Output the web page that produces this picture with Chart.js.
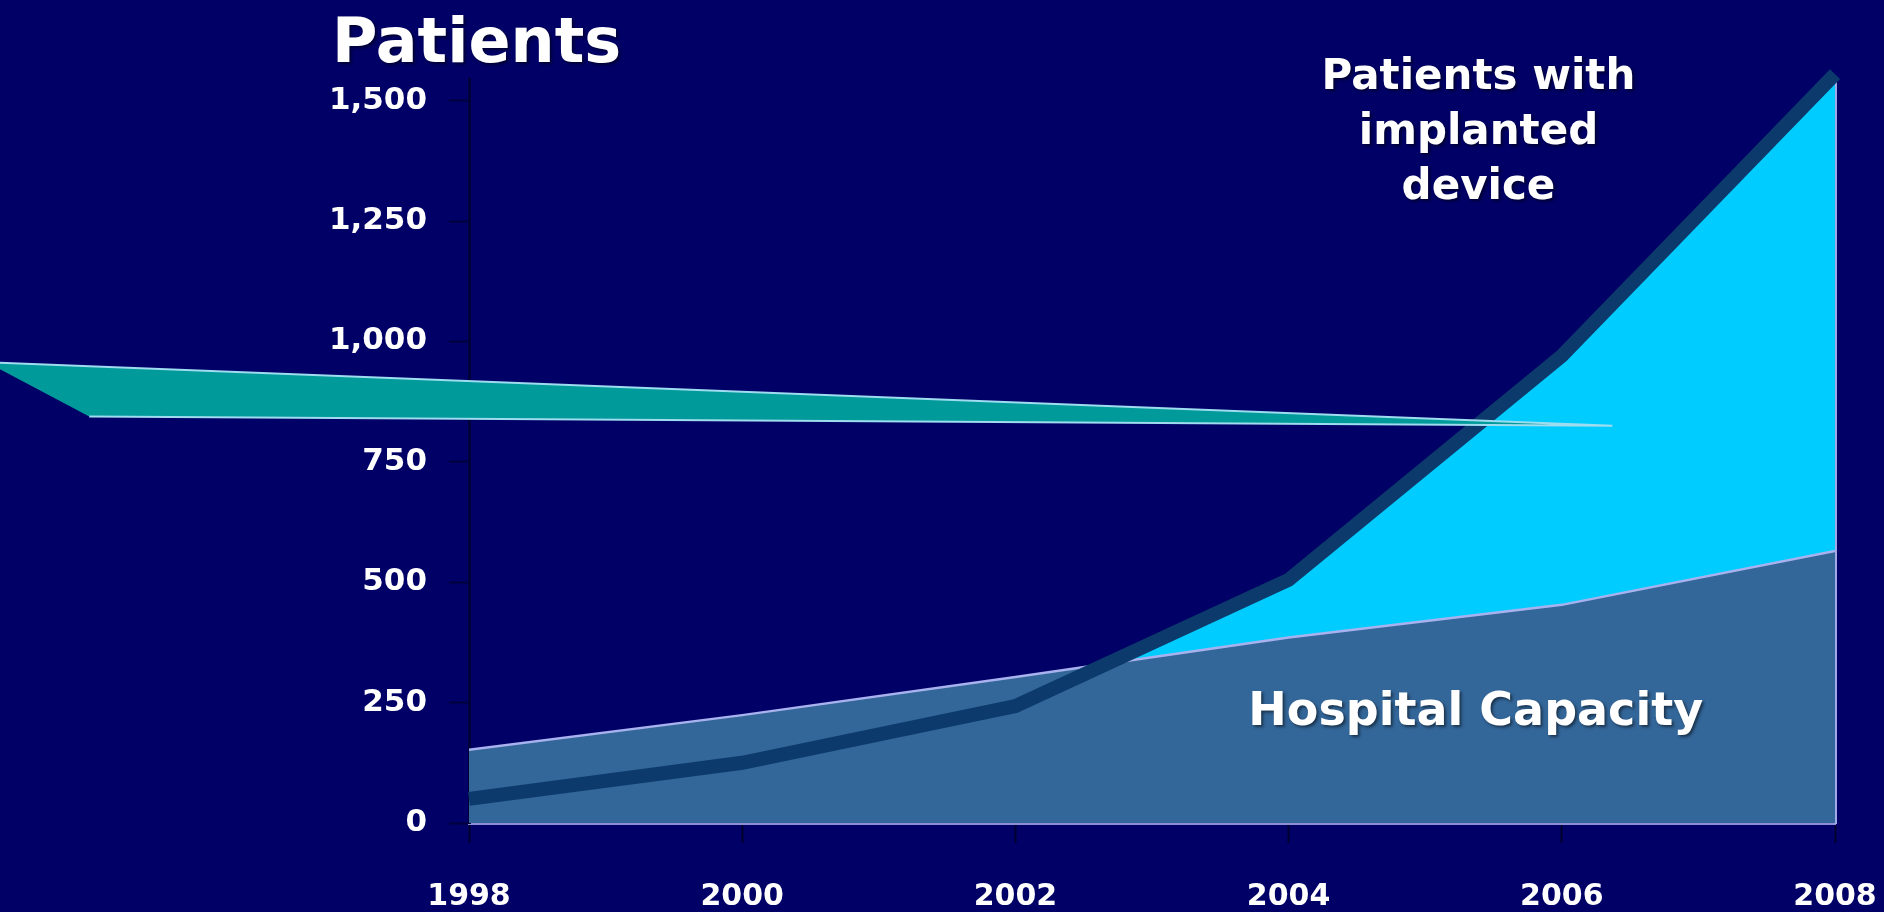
<!DOCTYPE html>
<html>
<head>
<meta charset="utf-8">
<script src="https://cdn.jsdelivr.net/npm/chart.js@4.4.1/dist/chart.umd.min.js"></script>
<style>
  html, body { margin: 0; padding: 0; background: #000066; overflow: hidden; }
  canvas { display: block; }
</style>
</head>
<body>
<canvas id="chart" width="1884" height="912"></canvas>
<script>
const years = [1998, 2000, 2002, 2004, 2006, 2008];
const capacity = [152, 224, 303, 385, 453, 565];
const implanted = [50, 125, 243, 505, 970, 1555];
const yTicks = [0, 250, 500, 750, 1000, 1250, 1500];
// teal band left over from the previous slide, corners as (year, patients)
const bandYears = [1994.47, 2006.37, 1995.22, 1994.47];
const bandValues = [957, 825, 844, 957];

const font = "DejaVu Sans";

function pairs(xs, ys) {
  return xs.map((v, i) => ({ x: v, y: ys[i] }));
}

// fill the band polygon ourselves, the filler plugin would clip it to the chart area
const bandFill = {
  id: 'bandFill',
  beforeDatasetDraw(chart, args) {
    if (args.index !== 0) return;
    const pts = args.meta.data;
    const ctx = chart.ctx;
    ctx.save();
    ctx.beginPath();
    pts.forEach((p, i) => i ? ctx.lineTo(p.x, p.y) : ctx.moveTo(p.x, p.y));
    ctx.closePath();
    ctx.fillStyle = '#009a9a';
    ctx.fill();
    ctx.restore();
  }
};

const slideText = {
  id: 'slideText',
  afterDraw(chart) {
    const { ctx, scales: { x, y } } = chart;
    ctx.save();
    ctx.fillStyle = '#ffffff';
    ctx.shadowColor = 'rgba(0,0,0,0.5)';
    ctx.shadowOffsetX = 2;
    ctx.shadowOffsetY = 2;
    ctx.shadowBlur = 3;
    ctx.textBaseline = 'alphabetic';

    ctx.font = 'bold 62px ' + font;
    ctx.textAlign = 'left';
    ctx.fillText('Patients', 332, 62);

    ctx.font = 'bold 42px ' + font;
    ctx.textAlign = 'center';
    const cx = x.getPixelForValue(2005.39);
    ['Patients with', 'implanted', 'device'].forEach((t, i) => ctx.fillText(t, cx, 89 + i * 55));

    ctx.font = 'bold 46px ' + font;
    ctx.fillText('Hospital Capacity', x.getPixelForValue(2005.37), y.getPixelForValue(204));
    ctx.restore();
  }
};

const context = document.getElementById('chart');

const config = {
  type: 'line',
  data: {
    datasets: [
      {
        label: 'band',
        data: pairs(bandYears, bandValues),
        borderColor: '#9edcef',
        borderWidth: 2,
        fill: false,
        clip: false,
        order: 0,
        segment: {
          borderColor: c => c.p1DataIndex === 3 ? 'rgba(0,0,0,0)' : '#9edcef'
        }
      },
      {
        label: 'Patients with implanted device',
        data: pairs(years, implanted),
        borderColor: '#0c3a6c',
        borderWidth: 14,
        fill: false,
        clip: false,
        order: 1
      },
      {
        label: 'Hospital Capacity',
        data: pairs(years, capacity),
        borderColor: '#a8b2ee',
        borderWidth: 2.5,
        backgroundColor: '#336699',
        fill: 'origin',
        order: 2
      },
      {
        label: 'implanted area',
        data: pairs(years, implanted),
        borderWidth: 0,
        backgroundColor: '#00ccff',
        fill: 'origin',
        order: 3
      }
    ]
  },
  options: {
    responsive: false,
    devicePixelRatio: 1,
    animation: false,
    layout: { padding: { top: 79, right: 49, left: 0, bottom: 0 } },
    elements: { point: { radius: 0 }, line: { tension: 0 } },
    plugins: {
      legend: { display: false },
      tooltip: { enabled: false }
    },
    scales: {
      x: {
        type: 'linear',
        min: 1998,
        max: 2008,
        z: 1,
        afterBuildTicks: s => { s.ticks = years.map(v => ({ value: v })); },
        afterFit: s => { s.height = 89; s.paddingLeft = 0; s.paddingRight = 0; },
        border: { display: true, color: '#8e8ed6', width: 3 },
        grid: { drawOnChartArea: false, tickLength: 20, tickColor: '#00002e', tickWidth: 2 },
        ticks: {
          color: '#ffffff',
          font: { family: font, size: 30, weight: 'bold' },
          padding: 36,
          maxRotation: 0,
          autoSkip: false,
          callback: v => String(v)
        }
      },
      y: {
        min: 0,
        max: 1545,
        afterBuildTicks: s => { s.ticks = yTicks.map(v => ({ value: v })); },
        afterFit: s => { s.width = 469; s.paddingTop = 0; s.paddingBottom = 0; },
        border: { color: '#00003a', width: 3 },
        grid: { drawOnChartArea: false, tickLength: 20, tickColor: '#00003a', tickWidth: 2 },
        ticks: {
          color: '#ffffff',
          font: { family: font, size: 31, weight: 'bold' },
          padding: 22
        }
      },
      y2: {
        position: 'right',
        min: 0,
        max: 1545,
        z: 1,
        afterFit: s => { s.width = 0; s.paddingTop = 0; s.paddingBottom = 0; },
        border: { display: true, color: '#a0a8e8', width: 3 },
        grid: { drawOnChartArea: false, drawTicks: false },
        ticks: { display: false }
      }
    }
  },
  plugins: [bandFill, slideText]
};

chart = new Chart(context, config);
</script>
</body>
</html>
